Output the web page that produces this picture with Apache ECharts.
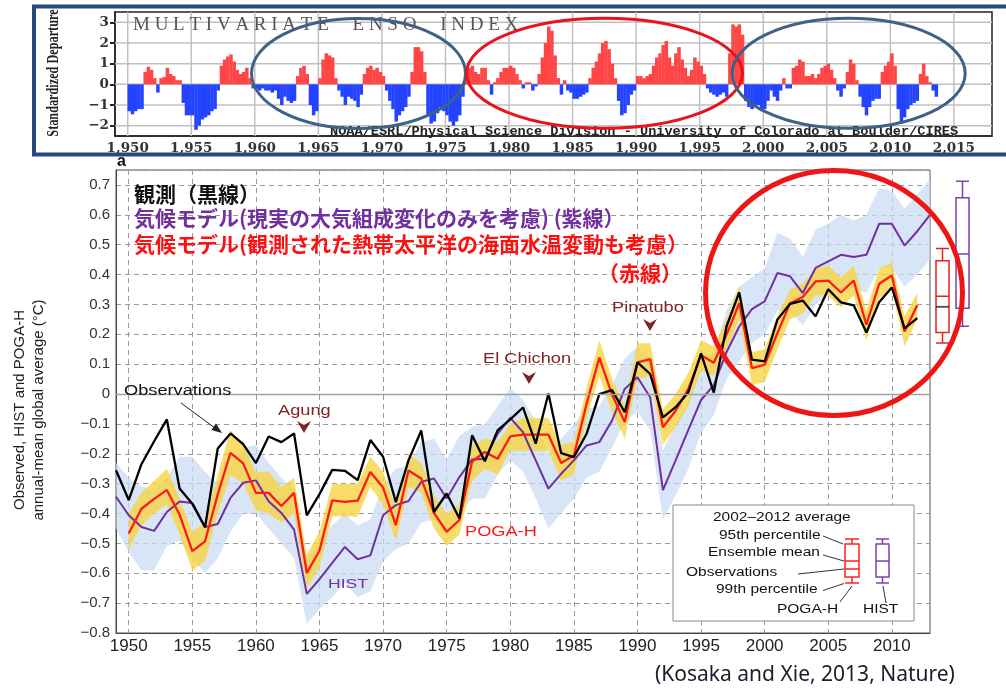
<!DOCTYPE html>
<html><head><meta charset="utf-8">
<script src="https://cdn.jsdelivr.net/npm/echarts@6/dist/echarts.min.js"></script>
<style>html,body{margin:0;padding:0;background:#fff}#c{width:1006px;height:693px}</style>
</head><body><div id="c"></div>
<script>
// ---------- Top panel: Multivariate ENSO Index (quarterly) ----------
const meiStart = 1950;
const mei1950s = [-1.3,-1.45,-1.3,-1.2, -1.2,0.6,0.85,0.7, 0.3,-0.4,0.3,0.35, 0.8,0.5,0.4,0.2, 0.2,-0.9,-1.5,-1.5,
                  -1.5,-2.2,-2.0,-1.7, -1.6,-1.5,-1.3,-1.2, -0.3,0.9,1.2,1.35, 1.45,1.1,0.7,0.5, 0.6,0.8,0.3,-0.2];
const mei1960s = [-0.2,-0.3,-0.2,-0.3, -0.3,-0.4,-0.3,-0.7, -1.0,-0.6,-0.8,-0.9, -0.8,0.4,0.8,0.9, 0.5,-1.0,-1.5,-1.3,
                  0.3,1.2,1.5,1.4, 1.3,0.3,-0.3,-0.6, -1.0,-0.6,-0.7,-0.8, -1.1,-0.5,0.5,0.8, 0.9,0.7,0.8,0.6];
const mei1970s = [0.4,-0.3,-0.8,-1.2, -1.8,-1.5,-1.3,-1.1, -0.6,0.6,1.8,1.8, 1.6,0.6,-1.5,-1.9, -1.8,-1.4,-1.1,-1.3,
                  -1.5,-1.8,-2.0,-1.8, -1.5,-0.6,0.5,0.8, 0.9,0.6,0.5,0.8, 0.8,0.2,-0.5,0.1, 0.3,0.6,0.8,0.8];
const mei1980s = [0.9,0.8,0.5,0.2, -0.2,0.1,0.1,-0.3, -0.1,0.5,1.3,2.0, 2.8,2.6,1.4,0.3, -0.5,0.2,-0.3,-0.4,
                  -0.7,-0.7,-0.6,-0.5, -0.4,0.3,0.8,1.1, 1.5,2.0,2.1,1.7, 1.0,0.3,-0.8,-1.5, -1.4,-1.0,-0.5,-0.3];
const mei1990s = [0.4,0.4,0.3,0.4, 0.5,0.9,1.3,1.5, 1.9,2.1,1.3,0.9, 1.5,1.8,1.2,0.8, 0.4,0.7,1.3,1.1,
                  0.9,0.5,-0.2,-0.4, -0.5,-0.6,-0.5,-0.4, -0.6,1.5,2.9,2.8, 2.9,2.4,-0.8,-1.1, -1.2,-1.0,-1.0,-1.3];
const mei2000s = [-1.2,-0.8,-0.3,-0.6, -0.8,-0.3,0.3,-0.2, -0.2,0.8,0.9,1.2, 1.1,0.4,0.4,0.5, 0.3,0.5,0.8,0.9,
                  1.0,0.7,0.3,-0.3, -0.6,-0.2,0.6,1.2, 1.0,0.2,-0.6,-1.1, -1.5,-1.1,-0.8,-0.7, -0.7,0.6,0.9,1.1];
const mei2010s = [1.5,0.9,-1.2,-1.9, -1.6,-1.2,-1.0,-0.9, -0.8,0.5,1.0,0.4, 0.1,-0.3,-0.6,null];
const meiYearTicks = [1950,1955,1960,1965,1970,1975,1980,1985,1990,1995,2000,2005,2010,2015];
const meiValueTicks = [-2,-1,0,1,2,3];
const meiXRange = [1949, 2018];
const meiYRange = [-2.5, 3.5];

// ---------- Main panel: annual-mean global temperature anomaly ----------
const years = [1949,1950,1951,1952,1953,1954,1955,1956,1957,1958,1959,1960,1961,1962,1963,1964,1965,1966,1967,1968,
  1969,1970,1971,1972,1973,1974,1975,1976,1977,1978,1979,1980,1981,1982,1983,1984,1985,1986,1987,1988,
  1989,1990,1991,1992,1993,1994,1995,1996,1997,1998,1999,2000,2001,2002,2003,2004,2005,2006,2007,2008,
  2009,2010,2011,2012,2013];
const obs = [-0.255,-0.355,-0.235,-0.158,-0.085,-0.316,-0.367,-0.446,-0.182,-0.132,
  -0.168,-0.231,-0.142,-0.161,-0.132,-0.406,-0.335,-0.254,-0.257,-0.288,
  -0.154,-0.21,-0.362,-0.222,-0.122,-0.395,-0.333,-0.417,-0.138,-0.225,
  -0.122,-0.085,-0.045,-0.166,0.002,-0.198,-0.211,-0.133,0.0,0.013,
  -0.061,0.106,0.067,-0.078,-0.044,0.006,0.136,0.005,0.226,0.34,
  0.115,0.109,0.249,0.302,0.313,0.26,0.351,0.307,0.297,0.206,
  0.307,0.357,0.22,0.254,null];
const poga = [null,-0.467,-0.384,-0.351,-0.321,-0.404,-0.526,-0.493,-0.336,-0.197,
  -0.232,-0.331,-0.331,-0.375,-0.331,-0.599,-0.524,-0.356,-0.361,-0.357,
  -0.261,-0.313,-0.439,-0.256,-0.283,-0.398,-0.461,-0.422,-0.226,-0.194,
  -0.217,-0.142,-0.136,-0.136,-0.136,-0.231,-0.206,-0.033,0.122,-0.002,
  -0.094,0.106,0.117,-0.111,-0.056,0.017,0.13,0.105,0.198,0.304,
  0.087,0.098,0.204,0.304,0.325,0.377,0.38,0.34,0.38,0.232,
  0.369,0.397,0.209,0.297,null];
const pogaLo = [null,-0.52,-0.44,-0.40,-0.37,-0.47,-0.59,-0.56,-0.40,-0.27,
  -0.30,-0.39,-0.40,-0.43,-0.40,-0.65,-0.58,-0.41,-0.41,-0.41,
  -0.31,-0.37,-0.49,-0.31,-0.33,-0.45,-0.51,-0.47,-0.29,-0.25,
  -0.27,-0.19,-0.19,-0.19,-0.19,-0.29,-0.27,-0.08,0.06,-0.06,
  -0.15,0.05,0.06,-0.17,-0.11,-0.04,0.08,0.06,0.15,0.25,
  0.03,0.04,0.15,0.25,0.27,0.33,0.33,0.29,0.33,0.18,
  0.32,0.35,0.16,0.25,null];
const pogaHi = [null,-0.40,-0.33,-0.29,-0.25,-0.35,-0.46,-0.43,-0.27,-0.12,
  -0.17,-0.26,-0.26,-0.31,-0.28,-0.54,-0.46,-0.30,-0.30,-0.30,
  -0.21,-0.26,-0.38,-0.20,-0.23,-0.34,-0.40,-0.37,-0.17,-0.15,
  -0.16,-0.10,-0.08,-0.08,-0.08,-0.17,-0.16,0.02,0.18,0.05,
  -0.04,0.17,0.17,-0.05,0.00,0.07,0.18,0.16,0.25,0.36,
  0.14,0.15,0.26,0.35,0.37,0.42,0.43,0.39,0.43,0.28,
  0.42,0.44,0.26,0.34,null];
const hist = [-0.344,-0.406,-0.445,-0.458,-0.395,-0.36,-0.365,-0.445,-0.435,-0.348,
  -0.297,-0.289,-0.359,-0.398,-0.454,-0.669,-0.62,-0.565,-0.512,-0.553,
  -0.54,-0.406,-0.372,-0.358,-0.294,-0.283,-0.35,-0.278,-0.219,-0.217,
  -0.133,-0.08,-0.128,-0.222,-0.317,-0.267,-0.222,-0.172,-0.161,-0.089,
  0.017,0.056,-0.011,-0.322,-0.222,-0.12,-0.02,0.03,0.14,0.226,
  0.284,0.31,0.405,0.394,0.338,0.422,0.444,0.466,0.459,0.466,
  0.57,0.57,0.497,0.545,0.6];
const histLo = [-0.45,-0.53,-0.59,-0.59,-0.51,-0.49,-0.55,-0.60,-0.55,-0.46,
  -0.40,-0.40,-0.45,-0.50,-0.55,-0.77,-0.72,-0.68,-0.63,-0.68,
  -0.66,-0.56,-0.52,-0.50,-0.43,-0.42,-0.47,-0.40,-0.35,-0.35,
  -0.27,-0.22,-0.26,-0.35,-0.45,-0.40,-0.35,-0.28,-0.26,-0.18,
  -0.09,-0.06,-0.12,-0.42,-0.34,-0.25,-0.13,-0.07,0.05,0.11,
  0.17,0.20,0.28,0.28,0.23,0.30,0.33,0.35,0.35,0.34,
  0.42,0.42,0.36,0.40,0.45];
const histHi = [-0.23,-0.28,-0.31,-0.32,-0.28,-0.21,-0.21,-0.26,-0.30,-0.24,
  -0.18,-0.17,-0.23,-0.28,-0.32,-0.55,-0.50,-0.44,-0.40,-0.44,
  -0.42,-0.30,-0.25,-0.24,-0.16,-0.15,-0.22,-0.14,-0.11,-0.10,
  -0.04,0.02,-0.02,-0.09,-0.20,-0.15,-0.10,-0.05,-0.04,0.03,
  0.12,0.16,0.12,-0.19,-0.10,-0.02,0.12,0.14,0.28,0.36,
  0.39,0.42,0.54,0.52,0.46,0.55,0.57,0.60,0.58,0.60,
  0.69,0.68,0.62,0.67,0.72];
// 2002-2012 averages: [99th low, 95th low, ensemble mean, 95th high, 99th high]
const boxNames = ['POGA-H','HIST'];
const pogaBox = [0.171,0.206,0.327,0.446,0.487];
const histBox = [0.227,0.287,0.469,0.657,0.712];
const obsAvg = 0.292;

// ---------- build ----------
const meiQ = [].concat(mei1950s, mei1960s, mei1970s, mei1980s, mei1990s, mei2000s, mei2010s);
const meiData = [];
meiQ.forEach((v, i) => { if (v !== null) meiData.push([meiStart + (i + 0.5) / 4, v]); });
const diff = (hi, lo) => hi.map((h, i) => (h === null || lo[i] === null) ? null : +(h - lo[i]).toFixed(3));
const fmtMinus = v => { const r = Math.round(v * 10) / 10; return r === 0 ? '0' : (r < 0 ? '\u2212' + Math.abs(r).toFixed(1) : r.toFixed(1)); };

const SANS = '"Liberation Sans", Arial, sans-serif';
const JP = '"Noto Sans CJK JP", sans-serif';
const G = [];
function T(x, y, text, font, fill, opts) {
  opts = opts || {};
  const a = opts.align || 'left', va = opts.va || 'middle';
  const el = {type: 'text', x: x, y: y, z: opts.z || 100,
    style: {text: text, font: font, fill: fill, align: a, textAlign: a, verticalAlign: va, textVerticalAlign: va}};
  if (opts.scaleX) el.scaleX = opts.scaleX;
  if (opts.rotation) el.rotation = opts.rotation;
  G.push(el);
}
function L(pts, stroke, w, z) { G.push({type: 'polyline', z: z || 100, shape: {points: pts}, style: {stroke: stroke, lineWidth: w, fill: 'none'}}); }
function P(pts, fill, z) { G.push({type: 'polygon', z: z || 100, shape: {points: pts}, style: {fill: fill}}); }
function E(cx, cy, rx, ry, stroke, w, z) { G.push({type: 'ellipse', z: z || 100, shape: {cx: cx, cy: cy, rx: rx, ry: ry}, style: {fill: 'none', stroke: stroke, lineWidth: w}}); }
function R(x, y, w, h, fill, stroke, lw, z) { G.push({type: 'rect', z: z || 100, shape: {x: x, y: y, width: w, height: h}, style: {fill: fill, stroke: stroke, lineWidth: lw}}); }

// top frame
R(34, 6.5, 1000, 148, 'none', '#24497a', 4, 90);
// top panel texts
T(133, 25.5, 'MULTIVARIATE ENSO INDEX'.split(' ').map(w => w.split('').join('\u2005')).join('\u2005\u2003'),
  '19px "Liberation Serif", serif', '#555');
T(330, 132, 'NOAA/ESRL/Physical Science Division - University of Colorado at Boulder/CIRES',
  'bold 13.6px "Liberation Mono", monospace', '#222');
T(54, 73, 'Standardized Departure', 'bold 17px "Liberation Serif", serif', '#222', {align: 'center', rotation: Math.PI / 2, scaleX: 0.72});
E(358.5, 73.5, 107, 55, '#3f6186', 3);
E(604.5, 73.3, 138, 55, '#e8141c', 3);
E(848.7, 73.3, 116.5, 55, '#3f6186', 3);

// main panel texts
T(117, 162, 'a', 'bold 16px ' + SANS, '#111');
T(20, 410, 'Observed, HIST and POGA-H', '15px ' + SANS, '#222', {align: 'center', rotation: Math.PI / 2});
T(39, 410, 'annual-mean global average (\u00b0C)', '15px ' + SANS, '#222', {align: 'center', rotation: Math.PI / 2});
T(134, 194, '観測（黒線）', 'bold 21px ' + JP, '#111');
T(134, 218, '気候モデル(現実の大気組成変化のみを考慮) (紫線）', 'bold 21px ' + JP, '#7030a0');
T(134, 244, '気候モデル(観測された熱帯太平洋の海面水温変動も考慮）', 'bold 21px ' + JP, '#ff1010');
T(598, 273, '（赤線）', 'bold 21px ' + JP, '#ff1010');

const ev = '#822323';
T(124, 391, 'Observations', '14px ' + SANS, '#111', {scaleX: 1.3});
L([[181, 403], [219, 431]], '#222', 1);
P([[222, 433], [211.4, 429.9], [216, 423.5]], '#222');
T(278, 411, 'Agung', '14px ' + SANS, ev, {scaleX: 1.3});
P([[297, 421], [304, 425], [311, 421], [304, 433]], ev);
T(483, 359.5, 'El Chichon', '14px ' + SANS, ev, {scaleX: 1.3});
P([[522, 372], [529, 376], [536, 372], [529, 384]], ev);
T(612, 308.5, 'Pinatubo', '14px ' + SANS, ev, {scaleX: 1.3});
P([[643, 319], [650, 323], [657, 319], [650, 331]], ev);
T(328, 584, 'HIST', '13.5px ' + SANS, '#7030a0', {scaleX: 1.3});
T(465, 532.5, 'POGA-H', '14px ' + SANS, '#ff1a1a', {scaleX: 1.3});

// legend box
R(673, 505, 241, 116, '#fff', '#888', 1, 50);
const LF = '12px ' + SANS;
T(713, 518, '2002\u20132012 average', LF, '#111', {scaleX: 1.29, z: 51});
T(719, 536, '95th percentile', LF, '#111', {scaleX: 1.29, z: 51});
T(708, 553, 'Ensemble mean', LF, '#111', {scaleX: 1.29, z: 51});
T(686, 573, 'Observations', LF, '#111', {scaleX: 1.29, z: 51});
T(716, 590, '99th percentile', LF, '#111', {scaleX: 1.29, z: 51});
T(777, 610, 'POGA-H', LF, '#111', {scaleX: 1.29, z: 51});
T(863, 610, 'HIST', LF, '#111', {scaleX: 1.29, z: 51});
L([[823, 536], [843, 544]], '#333', 1, 51);
L([[823, 555], [844, 561]], '#333', 1, 51);
L([[798, 574], [844, 569]], '#333', 1, 51);
L([[823, 590.5], [844, 583.5]], '#333', 1, 51);
L([[840, 602], [852, 586]], '#333', 1, 51);
L([[886, 603], [883, 586]], '#333', 1, 51);
function miniBox(x, w, col) {
  const c = x + w / 2;
  R(x, 544, w, 33, 'none', col, 1.5, 52);
  L([[x, 539], [x + w, 539]], col, 1.5, 52); L([[c, 539], [c, 544]], col, 1.5, 52);
  L([[x, 583], [x + w, 583]], col, 1.5, 52); L([[c, 577], [c, 583]], col, 1.5, 52);
  L([[x, 561], [x + w, 561]], col, 1.5, 52);
}
miniBox(845, 14, '#ff2020');
L([[845, 569], [859, 569]], '#ff2020', 1.5, 52);
miniBox(876, 13, '#7a40b0');

// big red circle & citation
E(834, 293, 128.5, 122.5, '#ee1515', 5, 60);
T(655, 675, '(Kosaka and Xie, 2013, Nature)', '21px "Noto Sans", sans-serif', '#1c1c2c');

const dashed = {color: '#9a9a9a', type: [5, 4], width: 1};
const option = {
  animation: false,
  backgroundColor: '#fff',
  grid: [
    {left: 115, top: 12, width: 877, height: 124, show: true, borderColor: '#222', borderWidth: 1.5, backgroundColor: 'transparent', outerBoundsMode: 'none', containLabel: false},
    {left: 116, top: 170, width: 814, height: 463, show: true, borderColor: '#555', borderWidth: 1, outerBoundsMode: 'none', containLabel: false},
    {left: 932.5, top: 170, width: 40, height: 463, outerBoundsMode: 'none', containLabel: false}
  ],
  xAxis: [
    {gridIndex: 0, type: 'value', min: meiXRange[0], max: meiXRange[1],
      axisLine: {show: true, onZero: false, lineStyle: {color: '#222', width: 1.5}},
      axisTick: {show: false, customValues: meiYearTicks},
      axisLabel: {customValues: meiYearTicks, fontFamily: '"DejaVu Serif", serif', fontWeight: 'bold', fontSize: 13.5, color: '#333', margin: 5},
      splitLine: {show: false}},
    {gridIndex: 1, type: 'category', data: years, boundaryGap: false,
      axisLine: {show: true, onZero: false, lineStyle: {color: '#444'}},
      axisTick: {show: false},
      axisLabel: {interval: (i, v) => (+v) % 5 === 0, fontFamily: SANS, fontSize: 17, color: '#222', margin: 5},
      splitLine: {show: true, interval: (i, v) => (+v) % 5 === 0, lineStyle: dashed}},
    {gridIndex: 2, type: 'category', data: boxNames, show: false}
  ],
  yAxis: [
    {gridIndex: 0, type: 'value', min: meiYRange[0], max: meiYRange[1],
      axisLine: {show: true, onZero: false, lineStyle: {color: '#222', width: 1.5}},
      axisTick: {show: true, customValues: meiValueTicks, length: 5, lineStyle: {color: '#222', width: 2}},
      axisLabel: {customValues: meiValueTicks, formatter: v => v < 0 ? '\u2212' + (-v) : '' + v,
        fontFamily: '"DejaVu Serif", serif', fontWeight: 'bold', fontSize: 13.5, color: '#333', margin: 6},
      splitLine: {show: false}},
    {gridIndex: 1, type: 'value', min: -0.8, max: 0.75, interval: 0.1,
      axisLine: {show: true, onZero: false, lineStyle: {color: '#444'}},
      axisTick: {show: false},
      axisLabel: {formatter: fmtMinus, fontFamily: SANS, fontSize: 15, color: '#333', margin: 6, showMaxLabel: false},
      splitLine: {show: true, lineStyle: dashed}},
    {gridIndex: 2, type: 'value', min: -0.8, max: 0.75, show: false, splitLine: {show: false}}
  ],
  series: [
    {type: 'bar', xAxisIndex: 0, yAxisIndex: 0, data: meiData, barWidth: 3.5, silent: true, z: 3,
      itemStyle: {color: p => p.value[1] >= 0 ? '#ff4545' : '#2343ff'}},
    {type: 'line', xAxisIndex: 1, yAxisIndex: 1, data: histLo, stack: 'hist', stackStrategy: 'all', symbol: 'none', silent: true,
      lineStyle: {width: 0, opacity: 0},
      markLine: {silent: true, symbol: ['none', 'none'], label: {show: false}, animation: false,
        lineStyle: {color: '#a0a0a0', type: 'solid', width: 1.3, opacity: 1}, data: [{yAxis: 0}]}},
    {type: 'line', xAxisIndex: 1, yAxisIndex: 1, data: diff(histHi, histLo), stack: 'hist', stackStrategy: 'all', symbol: 'none', silent: true,
      lineStyle: {opacity: 0}, areaStyle: {color: 'rgba(200,219,242,0.72)', opacity: 1}},
    {type: 'line', xAxisIndex: 1, yAxisIndex: 1, data: pogaLo, stack: 'poga', stackStrategy: 'all', symbol: 'none', silent: true,
      lineStyle: {opacity: 0}},
    {type: 'line', xAxisIndex: 1, yAxisIndex: 1, data: diff(pogaHi, pogaLo), stack: 'poga', stackStrategy: 'all', symbol: 'none', silent: true,
      lineStyle: {opacity: 0}, areaStyle: {color: 'rgba(248,212,66,0.8)', opacity: 1}},
    {type: 'line', name: 'HIST', xAxisIndex: 1, yAxisIndex: 1, data: hist, symbol: 'none',
      lineStyle: {color: '#7030a0', width: 2}},
    {type: 'line', name: 'POGA-H', xAxisIndex: 1, yAxisIndex: 1, data: poga, symbol: 'none',
      lineStyle: {color: '#ff1a1a', width: 2.3}},
    {type: 'line', name: 'Observations', xAxisIndex: 1, yAxisIndex: 1, data: obs, symbol: 'none',
      lineStyle: {color: '#000', width: 2.3}},
    {type: 'boxplot', xAxisIndex: 2, yAxisIndex: 2, boxWidth: [13, 13], silent: true,
      itemStyle: {color: '#fff', borderWidth: 1.5},
      data: [{value: pogaBox, itemStyle: {borderColor: '#e82020'}}, {value: histBox, itemStyle: {borderColor: '#7a40b0'}}]},
    {type: 'scatter', xAxisIndex: 2, yAxisIndex: 2, symbol: 'rect', symbolSize: [13, 1.8], silent: true, z: 5,
      itemStyle: {color: '#222'}, data: [[boxNames[0], obsAvg]]}
  ],
  graphic: {elements: G}
};
const chart = echarts.init(document.getElementById('c'), null, {renderer: 'canvas'});
chart.setOption(option);

// top-panel grid lines placed through the library's own scale (convertToPixel), drawn under the bars
const gl = [];
const cv = (x, y) => chart.convertToPixel({gridIndex: 0}, [x, y]);
meiYearTicks.forEach(v => {
  const a = cv(v, meiYRange[0]), b = cv(v, meiYRange[1]);
  gl.push({type: 'line', z: 2, silent: true, shape: {x1: a[0], y1: a[1], x2: b[0], y2: b[1]}, style: {stroke: '#c0c0c0', lineWidth: 1.5}});
});
meiValueTicks.forEach(v => {
  const a = cv(meiXRange[0], v), b = cv(meiXRange[1], v);
  gl.push({type: 'line', z: 2, silent: true, shape: {x1: a[0], y1: a[1], x2: b[0], y2: b[1]}, style: {stroke: '#c0c0c0', lineWidth: 1.5}});
});
chart.setOption({graphic: {elements: G.concat(gl)}});
</script>
</body></html>
